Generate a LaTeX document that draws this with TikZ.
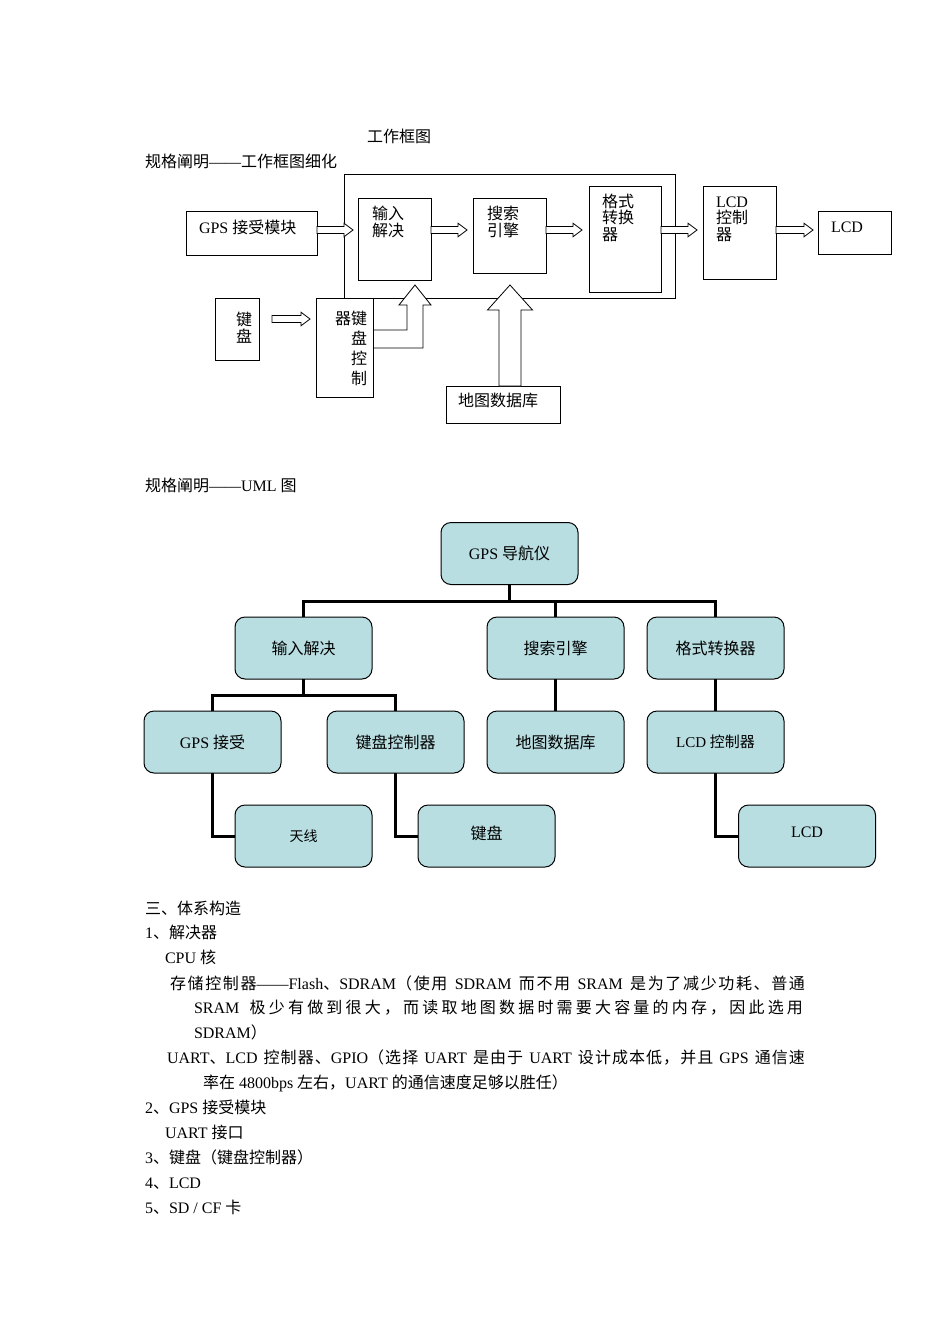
\documentclass[tikz,border=0pt]{standalone}
\usepackage{fontspec}
\setmainfont{Liberation Serif}
\newfontfamily\cjk{Noto Sans CJK SC}
\XeTeXinterchartokenstate=1
\newXeTeXintercharclass\CJKcls
\newcount\cjkc
\def\setcjkrange#1#2{\cjkc=#1 \loop\XeTeXcharclass\cjkc=\CJKcls \ifnum\cjkc<#2 \advance\cjkc by 1 \repeat}
\setcjkrange{"4E00}{"9FFF}
\setcjkrange{"3000}{"303F}
\setcjkrange{"FF00}{"FFEF}
\XeTeXinterchartoks 0 \CJKcls = {\begingroup\cjk}
\XeTeXinterchartoks 4095 \CJKcls = {\begingroup\cjk}
\XeTeXinterchartoks \CJKcls 0 = {\endgroup}
\XeTeXinterchartoks \CJKcls 4095 = {\endgroup}
\XeTeXinterchartoks \CJKcls \CJKcls = {\hskip0pt plus 1pt\relax}
\definecolor{umlfill}{RGB}{184,222,225}
\newcommand\harr[2]{\filldraw[blockarr] #1 ++(0,-3.5) -- ++({#2-9},0) -- ++(0,-3.3) -- ++(9,6.8) -- ++(-9,6.8) -- ++(0,-3.3) -- ++({9-#2},0) -- cycle;}
\newcommand\cdash{\rule[0.3em]{2.2em}{0.06em}}
\begin{document}
\begin{tikzpicture}[x=1pt,y=-1pt,
  every node/.style={inner sep=0pt, outer sep=0pt},
  blk/.style={draw, line width=0.8pt, anchor=north west},
  txt/.style={font=\fontsize{16}{17}\selectfont, anchor=base west, align=left},
  blockarr/.style={draw, fill=white, line width=0.8pt, line join=miter},
  uml/.style={draw, line width=1pt, fill=umlfill, rounded corners=10pt, minimum width=137pt, minimum height=62pt, font=\fontsize{16}{17}\selectfont},
  tree/.style={line width=3pt}
]
\useasboundingbox (0,0) rectangle (950,1344);

% ---------- titles ----------
\node[txt] (title) at (367,142) {工作框图};
\node[txt] (sec1) at (145,167) {规格阐明——工作框图细化};
\node[txt] (sec2) at (145,491) {规格阐明——UML 图};

% ---------- block diagram ----------
\node[blk, minimum width=331pt, minimum height=124pt] (frame) at (344,174) {};
\node[blk, minimum width=131pt, minimum height=44pt] (gps) at (186,211) {};
\node[blk, minimum width=73pt, minimum height=82pt] (inp) at (358,198) {};
\node[blk, minimum width=73pt, minimum height=75pt] (srch) at (473,198) {};
\node[blk, minimum width=72pt, minimum height=106pt] (fmt) at (589,186) {};
\node[blk, minimum width=73pt, minimum height=93pt] (lcdc) at (703,186) {};
\node[blk, minimum width=73pt, minimum height=43pt] (lcd) at (818,211) {};
\node[blk, minimum width=44pt, minimum height=62pt] (kb) at (215,298) {};
\node[blk, minimum width=114pt, minimum height=37pt] (db) at (446,386) {};
\coordinate (kbcnw) at (316,298);
\coordinate (kbcse) at (373,397);

\coordinate (row) at (0,230);
\coordinate (krow) at (0,319);
\harr{(gps.east |- row)}{36}
\harr{(inp.east |- row)}{36}
\harr{(srch.east |- row)}{36}
\harr{(fmt.east |- row)}{36}
\harr{(lcdc.east |- row)}{37}
\harr{([xshift=13pt]kb.east |- krow)}{38}

% bent arrow from keyboard controller into the frame
\filldraw[blockarr] (kbcse |- kbcnw) ++(0,32) -- ++(34,0) -- ++(0,-25) -- ++(-8,0) -- ++(16,-20) -- ++(16,20) -- ++(-8,0) -- ++(0,43) -- ++(-50,0);
% arrow from map database
\filldraw[blockarr] ([xshift=7pt]db.north) ++(-11,0) -- ++(0,-76) -- ++(-11.5,0) -- ++(22.5,-25) -- ++(22.5,25) -- ++(-11.5,0) -- ++(0,76) -- cycle;
% keyboard controller box (drawn after the arrows)
\node[blk, minimum width=57pt, minimum height=99pt] (kbc) at (kbcnw) {};

\node[txt] (tgps) at (199,233) {GPS 接受模块};
\node[txt] (tinp) at (372,236) {输入\\解决};
\node[txt] (tsrch) at (487,236) {搜索\\引擎};
\node[txt, font=\fontsize{16}{16.5}\selectfont] (tfmt) at (602,240) {格式\\转换\\器};
\node[txt, font=\fontsize{16}{16.5}\selectfont] (tlcdc) at (716,240) {LCD\\控制\\器};
\node[txt] (tlcd) at (831,232) {LCD};
\node[txt] (tkb) at (236,342) {键\\盘};
\node[txt, anchor=base east, align=right, font=\fontsize{16}{19.7}\selectfont] (tkbc) at (367,384) {器键\\盘\\控\\制};
\node[txt] (tdb) at (458,406) {地图数据库};

% ---------- UML tree ----------
\node[uml] (root) at (509.5,553.5) {GPS 导航仪};
\node[uml] (u1) at (303.5,648) {输入解决};
\node[uml] (u2) at (555.5,648) {搜索引擎};
\node[uml] (u3) at (715.5,648) {格式转换器};
\node[uml] (u4) at (212.5,742) {GPS 接受};
\node[uml] (u5) at (395.5,742) {键盘控制器};
\node[uml] (u6) at (555.5,742) {地图数据库};
\node[uml, font=\fontsize{15}{16}\selectfont] (u7) at (715.5,742) {LCD 控制器};
\node[uml, font=\fontsize{14}{15}\selectfont] (u8) at (303.5,836) {天线};
\node[uml] (u9) at (486.5,836) {\raisebox{6pt}{键盘}};
\node[uml] (u10) at (807,836) {\raisebox{7pt}{LCD}};

\coordinate (bus1) at (509.5,601);
\coordinate (bus2) at (303.5,695);
\draw[tree] (root.south) -- (bus1);
\draw[tree] (u1.north) |- (bus1) -| (u3.north);
\draw[tree] (u2.north) -- (u2.north |- bus1);
\draw[tree] (u1.south) -- (bus2);
\draw[tree] (u4.north) |- (bus2) -| (u5.north);
\draw[tree] (u2.south) -- (u6.north);
\draw[tree] (u3.south) -- (u7.north);
\draw[tree] (u4.south) |- (u8.west);
\draw[tree] (u5.south) |- (u9.west);
\draw[tree] (u7.south) |- (u10.west);

% ---------- body text ----------
\node[txt] (b1) at (145,914) {三、体系构造};
\node[txt] (b2) at (145,938) {1、解决器};
\node[txt] (b3) at (165,963) {CPU 核};
\node[txt] (b4) at (170,989) {\makebox[635pt][s]{存储控制器——Flash、SDRAM（使用 SDRAM 而不用 SRAM 是为了减少功耗、普通}};
\node[txt] (b5) at (194,1013) {\makebox[609pt][s]{SRAM 极少有做到很大，而读取地图数据时需要大容量的内存，因此选用}};
\node[txt] (b6) at (194,1038) {SDRAM）};
\node[txt] (b7) at (167,1063) {\makebox[638pt][s]{UART、LCD 控制器、GPIO（选择 UART 是由于 UART 设计成本低，并且 GPS 通信速}};
\node[txt] (b8) at (203,1088) {率在 4800bps 左右，UART 的通信速度足够以胜任）};
\node[txt] (b9) at (145,1113) {2、GPS 接受模块};
\node[txt] (b10) at (165,1138) {UART 接口};
\node[txt] (b11) at (145,1163) {3、键盘（键盘控制器）};
\node[txt] (b12) at (145,1188) {4、LCD};
\node[txt] (b13) at (145,1213) {5、SD / CF 卡};
\end{tikzpicture}
\end{document}
